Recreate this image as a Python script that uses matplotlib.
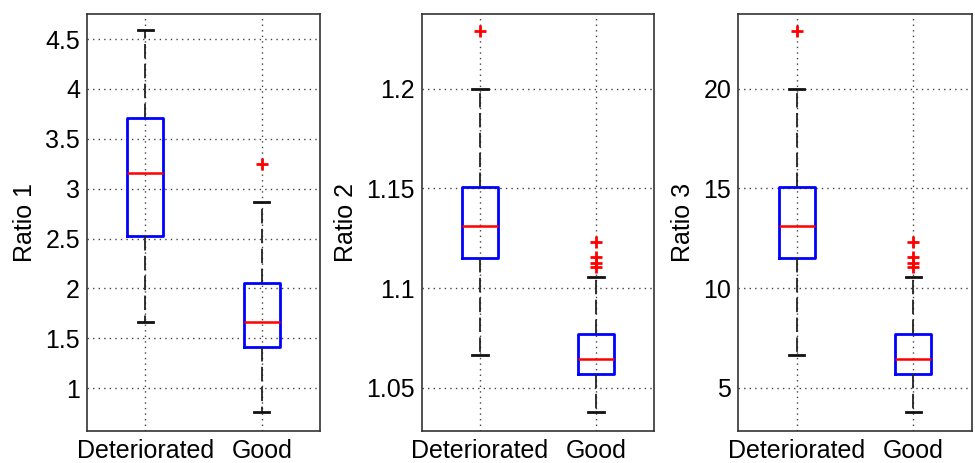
import matplotlib
matplotlib.use("Agg")
import matplotlib.pyplot as plt

plt.rcParams['font.family'] = ['Liberation Sans', 'DejaVu Sans']

groups = ["Deteriorated", "Good"]

# box statistics per ratio: [Deteriorated, Good]
ratio1_whislo = [1.66, 0.765]
ratio1_q1 = [2.53, 1.41]
ratio1_med = [3.156, 1.662]
ratio1_q3 = [3.708, 2.05]
ratio1_whishi = [4.59, 2.87]
ratio1_fliers = [[], [3.25]]

ratio2_whislo = [1.0667, 1.0379]
ratio2_q1 = [1.1149, 1.0569]
ratio2_med = [1.1311, 1.0642]
ratio2_q3 = [1.1508, 1.0769]
ratio2_whishi = [1.2, 1.1055]
ratio2_fliers = [[1.229], [1.123, 1.1155, 1.1124, 1.1107]]

ratio3_whislo = [6.67, 3.8]
ratio3_q1 = [11.49, 5.7]
ratio3_med = [13.11, 6.42]
ratio3_q3 = [15.08, 7.69]
ratio3_whishi = [20.0, 10.55]
ratio3_fliers = [[22.9], [12.32, 11.54, 11.24, 11.07]]

ratio1_ticks = [1, 1.5, 2, 2.5, 3, 3.5, 4, 4.5]
ratio1_ticklabels = ["1", "1.5", "2", "2.5", "3", "3.5", "4", "4.5"]
ratio2_ticks = [1.05, 1.1, 1.15, 1.2]
ratio2_ticklabels = ["1.05", "1.1", "1.15", "1.2"]
ratio3_ticks = [5, 10, 15, 20]
ratio3_ticklabels = ["5", "10", "15", "20"]

panels = [
    ("Ratio 1", ratio1_whislo, ratio1_q1, ratio1_med, ratio1_q3, ratio1_whishi, ratio1_fliers,
     ratio1_ticks, ratio1_ticklabels, (0.57, 4.75), [0.0892, 0.069, 0.239, 0.9006]),
    ("Ratio 2", ratio2_whislo, ratio2_q1, ratio2_med, ratio2_q3, ratio2_whishi, ratio2_fliers,
     ratio2_ticks, ratio2_ticklabels, (1.0283, 1.2375), [0.4328, 0.069, 0.238, 0.9006]),
    ("Ratio 3", ratio3_whislo, ratio3_q1, ratio3_med, ratio3_q3, ratio3_whishi, ratio3_fliers,
     ratio3_ticks, ratio3_ticklabels, (2.83, 23.75), [0.7572, 0.069, 0.2394, 0.9006]),
]

fig = plt.figure(figsize=(9.75, 4.63), dpi=100)

for (ylab, whislo, q1, med, q3, whishi, fliers, ticks, ticklabels, ylim, pos) in panels:
    ax = fig.add_axes(pos)
    stats = []
    for i in range(len(groups)):
        stats.append(dict(label=groups[i], whislo=whislo[i], q1=q1[i], med=med[i],
                          q3=q3[i], whishi=whishi[i], fliers=fliers[i]))
    ax.bxp(stats, positions=[1, 2], widths=0.31, capwidths=0.13, showfliers=True,
           boxprops=dict(color="#0000ff", linewidth=2),
           medianprops=dict(color="#ff0000", linewidth=1.8),
           whiskerprops=dict(color="#222222", linewidth=1.3, linestyle=(0, (8, 3))),
           capprops=dict(color="#111111", linewidth=2),
           flierprops=dict(marker="+", markeredgecolor="#ff0000", markersize=9,
                           markeredgewidth=2, linestyle="none"))
    ax.set_xlim(0.5, 2.5)
    ax.set_ylim(*ylim)
    ax.set_yticks(ticks)
    ax.set_yticklabels(ticklabels)
    ax.set_xticks([1, 2])
    ax.set_xticklabels(groups)
    ax.grid(True, linestyle=(0, (1, 3)), color="#444444", linewidth=1)
    ax.set_axisbelow(True)
    ax.tick_params(axis="both", direction="in", length=0, labelsize=18, pad=5)
    ax.tick_params(axis="x", pad=6)
    for sp in ax.spines.values():
        sp.set_color("#333333")
        sp.set_linewidth(1.2)
    ax.set_ylabel(ylab, fontsize=18, labelpad=6)

fig.savefig("out.png", dpi=100)
